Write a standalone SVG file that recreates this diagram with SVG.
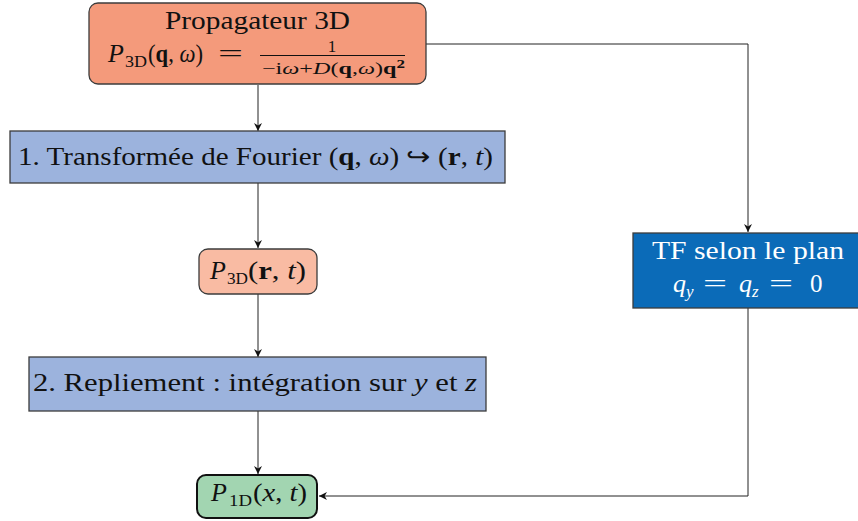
<svg xmlns="http://www.w3.org/2000/svg" width="858" height="521" viewBox="0 0 858 521">
<style>
text{font-family:"Liberation Serif","Times New Roman",serif;fill:#111}
.it{font-style:italic}
.b{font-weight:bold}
.box{stroke:#3c3c3c;stroke-width:1.3}
.conn{fill:none;stroke:#222;stroke-width:1}
.w{fill:#fff}
</style>
<defs>
<marker id="ah" viewBox="0 0 10 10" refX="10" refY="5" markerWidth="8" markerHeight="8" markerUnits="userSpaceOnUse" orient="auto">
<path d="M0,0 L10,5 L0,10 L3,5 Z" fill="#111"/>
</marker>
</defs>
<rect width="858" height="521" fill="#fff"/>
<g id="connectors">
<path class="conn" d="M258,85 V131" marker-end="url(#ah)"/>
<path class="conn" d="M258,183 V248" marker-end="url(#ah)"/>
<path class="conn" d="M258,294 V357" marker-end="url(#ah)"/>
<path class="conn" d="M258,411 V474" marker-end="url(#ah)"/>
<path class="conn" d="M426,44 H748 V232" marker-end="url(#ah)"/>
<path class="conn" d="M748,308 V496 H319" marker-end="url(#ah)"/>
</g>
<g id="propagateur">
<rect class="box" x="89" y="3" width="337" height="81" rx="9" fill="#F49A7B"/>
<text x="165" y="29" font-size="25" textLength="185" lengthAdjust="spacingAndGlyphs">Propagateur 3D</text>
<text x="108" y="62" font-size="26" class="it">P</text>
<text x="125" y="67" font-size="17" textLength="22" lengthAdjust="spacingAndGlyphs">3D</text>
<text x="148" y="62" font-size="25" textLength="55" lengthAdjust="spacingAndGlyphs">(<tspan class="b">q</tspan>, <tspan class="it">ω</tspan>)</text>
<text x="218" y="62" font-size="25" textLength="25" lengthAdjust="spacingAndGlyphs">=</text>
<line x1="260" y1="55.5" x2="405" y2="55.5" stroke="#111" stroke-width="1"/>
<text x="332" y="52" font-size="17" text-anchor="middle">1</text>
<text x="262" y="74" font-size="17" textLength="143" lengthAdjust="spacingAndGlyphs">−i<tspan class="it">ω</tspan>+<tspan class="it">D</tspan>(<tspan class="b">q</tspan>,<tspan class="it">ω</tspan>)<tspan class="b">q</tspan><tspan class="b" font-size="12" dy="-6">2</tspan></text>
</g>
<g id="fourier">
<rect class="box" x="10" y="131" width="495" height="52" fill="#9CB3DD"/>
<text x="18" y="165" font-size="25" textLength="475" lengthAdjust="spacingAndGlyphs">1. Transformée de Fourier (<tspan class="b">q</tspan>, <tspan class="it">ω</tspan>) ↪ (<tspan class="b">r</tspan>, <tspan class="it">t</tspan>)</text>
</g>
<g id="p3d">
<rect class="box" x="199" y="249" width="118" height="45" rx="9" fill="#F9BBA3"/>
<text x="210" y="279" font-size="26" class="it">P</text>
<text x="227" y="284" font-size="17" textLength="21" lengthAdjust="spacingAndGlyphs">3D</text>
<text x="248" y="279" font-size="25" textLength="58" lengthAdjust="spacingAndGlyphs">(<tspan class="b">r</tspan>, <tspan class="it">t</tspan>)</text>
</g>
<g id="repliement">
<rect class="box" x="29" y="357" width="457" height="54" fill="#9CB3DD"/>
<text x="33" y="391" font-size="25" textLength="444" lengthAdjust="spacingAndGlyphs">2. Repliement : intégration sur <tspan class="it">y</tspan> et <tspan class="it">z</tspan></text>
</g>
<g id="tf">
<rect class="box" x="633" y="233" width="230" height="75" fill="#0B6BB8"/>
<text class="w" x="652" y="259" font-size="25" textLength="192" lengthAdjust="spacingAndGlyphs">TF selon le plan</text>
<text class="w it" x="673" y="292" font-size="26">q</text>
<text class="w it" x="686" y="297" font-size="17">y</text>
<text class="w" x="703" y="292" font-size="25" textLength="24" lengthAdjust="spacingAndGlyphs">=</text>
<text class="w it" x="739" y="292" font-size="26">q</text>
<text class="w it" x="752" y="297" font-size="17">z</text>
<text class="w" x="769" y="292" font-size="25" textLength="24" lengthAdjust="spacingAndGlyphs">=</text>
<text class="w" x="810" y="292" font-size="25">0</text>
</g>
<g id="p1d">
<rect x="197" y="475" width="120" height="43" rx="9" fill="#A2D5B1" stroke="#111" stroke-width="2"/>
<text x="211" y="501" font-size="26" class="it">P</text>
<text x="229" y="506" font-size="17" textLength="23" lengthAdjust="spacingAndGlyphs">1D</text>
<text x="253" y="501" font-size="25" textLength="54" lengthAdjust="spacingAndGlyphs">(<tspan class="it">x</tspan>, <tspan class="it">t</tspan>)</text>
</g>
</svg>
